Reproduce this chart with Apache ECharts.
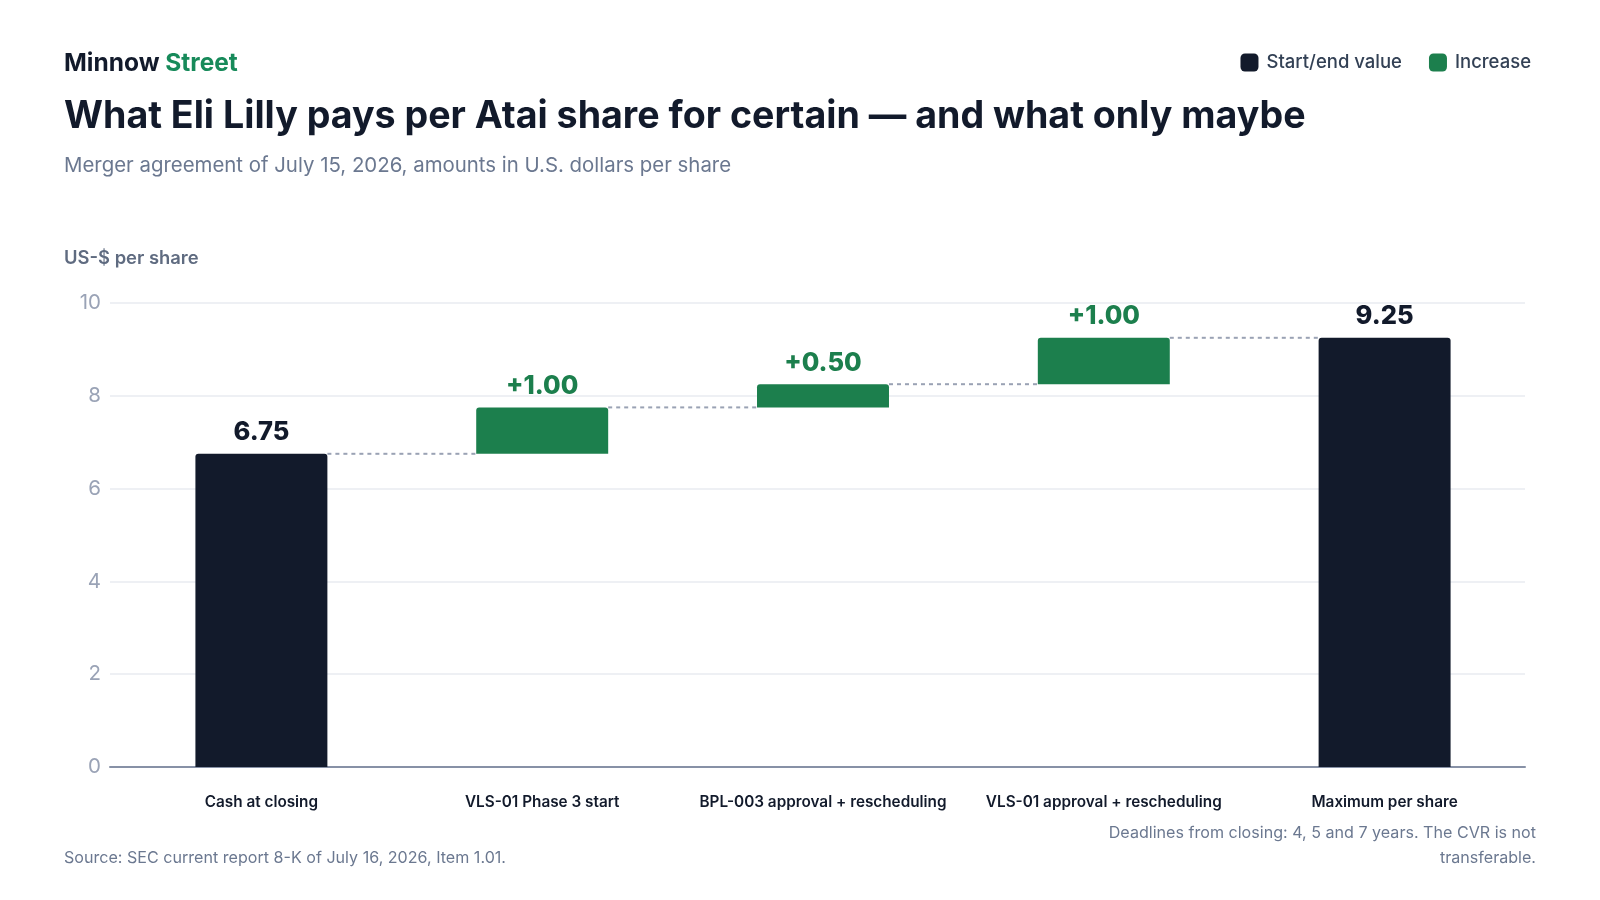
<!DOCTYPE html>
<html>
<head>
<meta charset="utf-8">
<script src="https://cdn.jsdelivr.net/npm/echarts@6/dist/echarts.min.js"></script>
<style>
html,body{margin:0;padding:0;background:#fff;}
#chart{width:1600px;height:900px;}
</style>
</head>
<body>
<div id="chart"></div>
<script>
const categories = ['Cash at closing', 'VLS-01 Phase 3 start', 'BPL-003 approval + rescheduling', 'VLS-01 approval + rescheduling', 'Maximum per share'];
const steps = [6.75, 1.00, 0.50, 1.00, 9.25];
const stepTypes = ['total', 'increase', 'increase', 'increase', 'total'];
const yTicks = [0, 2, 4, 6, 8, 10];

const DARK = '#121a2b';
const GREEN = '#1c7f4d';
const FONT = 'Inter, "Noto Sans", sans-serif';

// compute bases for waterfall
const bases = [];
const tops = [];
let running = 0;
steps.forEach((v, i) => {
  if (stepTypes[i] === 'total') { bases.push(0); running = v; tops.push(v); }
  else { bases.push(running); running += v; tops.push(running); }
});
const connectorData = tops.slice(0, -1).map((t, i) => [i, t]);

function txt(x, y, text, opts) {
  return {type: 'text', x: x, y: y, style: Object.assign({text: text, fontFamily: FONT, align: 'left', verticalAlign: 'middle'}, opts)};
}

const yMin = yTicks[0], yMax = yTicks[yTicks.length - 1];

const chart = echarts.init(document.getElementById('chart'), null, {renderer: 'canvas'});
const option = {
  backgroundColor: '#ffffff',
  animation: false,
  textStyle: {fontFamily: FONT},
  legend: {
    right: 64, top: 48,
    itemWidth: 18, itemHeight: 18, itemGap: 27,
    icon: 'roundRect',
    textStyle: {fontFamily: FONT, fontSize: 18.5, color: '#334155', fontWeight: 500, padding: [0, 0, 0, 3]},
    data: [
      {name: 'Start/end value', itemStyle: {color: DARK}},
      {name: 'Increase', itemStyle: {color: GREEN}}
    ]
  },
  graphic: [
    {type: 'text', x: 64, y: 64, style: {verticalAlign: 'middle', rich: {a: {fill: '#121a2b', fontSize: 24.5, fontWeight: 700, fontFamily: FONT}, b: {fill: '#178a5a', fontSize: 24.5, fontWeight: 700, fontFamily: FONT}}, text: '{a|Minnow }{b|Street}'}},
    txt(64, 117, 'What Eli Lilly pays per Atai share for certain \u2014 and what only maybe', {fill: '#121a2b', fontSize: 37.6, fontWeight: 700}),
    txt(64, 166, 'Merger agreement of July 15, 2026, amounts in U.S. dollars per share', {fill: '#6b7890', fontSize: 20.4}),
    txt(64, 258, 'US-$ per share', {fill: '#5f6b80', fontSize: 18.4, fontWeight: 600}),
    txt(64, 858, 'Source: SEC current report 8-K of July 16, 2026, Item 1.01.', {fill: '#6b7890', fontSize: 16.1}),
    txt(1536, 833, 'Deadlines from closing: 4, 5 and 7 years. The CVR is not', {fill: '#6b7890', fontSize: 16.1, align: 'right'}),
    txt(1536, 858, 'transferable.', {fill: '#6b7890', fontSize: 16.1, align: 'right'})
  ],
  grid: [
    {left: 110, right: 75, top: 303, bottom: 133, containLabel: false},
    {left: 121, right: 75, top: 303, bottom: 133, containLabel: false}
  ],
  xAxis: [
    {
      type: 'value', gridIndex: 0, min: 0, max: 1,
      axisLine: {show: true, onZero: false, lineStyle: {color: '#8791a6', width: 2}},
      axisTick: {show: false}, axisLabel: {show: false}, splitLine: {show: false}
    },
    {
      type: 'category', gridIndex: 1,
      data: categories,
      axisLine: {show: false},
      axisTick: {show: false},
      axisLabel: {color: '#121a2b', fontSize: 15.3, fontWeight: 600, margin: 28, fontFamily: FONT, interval: 0}
    }
  ],
  yAxis: [
    {
      type: 'value', gridIndex: 0,
      min: yMin, max: yMax, interval: 2,
      axisLine: {show: false},
      axisTick: {show: false},
      axisLabel: {color: '#9aa3b6', fontSize: 20.5, margin: 9, fontFamily: FONT},
      splitLine: {lineStyle: {color: '#e8ebf0', width: 1.5}}
    },
    {
      type: 'value', gridIndex: 1,
      min: yMin, max: yMax, interval: 2,
      axisLine: {show: false}, axisTick: {show: false}, axisLabel: {show: false}, splitLine: {show: false}
    }
  ],
  series: [
    {
      name: 'base', type: 'bar', stack: 'w', silent: true, xAxisIndex: 1, yAxisIndex: 1,
      barWidth: '47%',
      itemStyle: {color: 'transparent'},
      data: bases
    },
    {
      name: 'Start/end value', type: 'bar', stack: 'w', xAxisIndex: 1, yAxisIndex: 1,
      barWidth: '47%',
      itemStyle: {color: DARK, borderRadius: [3, 3, 0, 0]},
      label: {show: true, position: 'top', distance: 8, color: DARK, fontSize: 25.5, fontWeight: 800, fontFamily: FONT,
        formatter: p => p.value == null || p.value === '-' ? '' : Number(p.value).toFixed(2)},
      data: steps.map((v, i) => stepTypes[i] === 'total' ? v : '-')
    },
    {
      name: 'Increase', type: 'bar', stack: 'w', xAxisIndex: 1, yAxisIndex: 1,
      barWidth: '47%',
      itemStyle: {color: GREEN, borderRadius: [3, 3, 0, 0]},
      label: {show: true, position: 'top', distance: 8, color: GREEN, fontSize: 25.5, fontWeight: 800, fontFamily: FONT,
        formatter: p => p.value == null || p.value === '-' ? '' : '+' + Number(p.value).toFixed(2)},
      data: steps.map((v, i) => stepTypes[i] === 'increase' ? v : '-')
    },
    {
      name: 'connectors', type: 'custom', silent: true, z: 1, xAxisIndex: 1, yAxisIndex: 1,
      renderItem: function (params, api) {
        const i = api.value(0);
        const y = api.value(1);
        const p1 = api.coord([i, y]);
        const p2 = api.coord([i + 1, y]);
        const band = api.size([1, 0])[0];
        const half = band * 0.47 / 2;
        return {
          type: 'line',
          shape: {x1: p1[0] + half, y1: p1[1], x2: p2[0] - half, y2: p2[1]},
          style: {stroke: '#9aa2b4', lineWidth: 2, lineDash: [4, 4]}
        };
      },
      encode: {x: 0, y: 1},
      data: connectorData
    }
  ]
};
chart.setOption(option);
</script>
</body>
</html>
